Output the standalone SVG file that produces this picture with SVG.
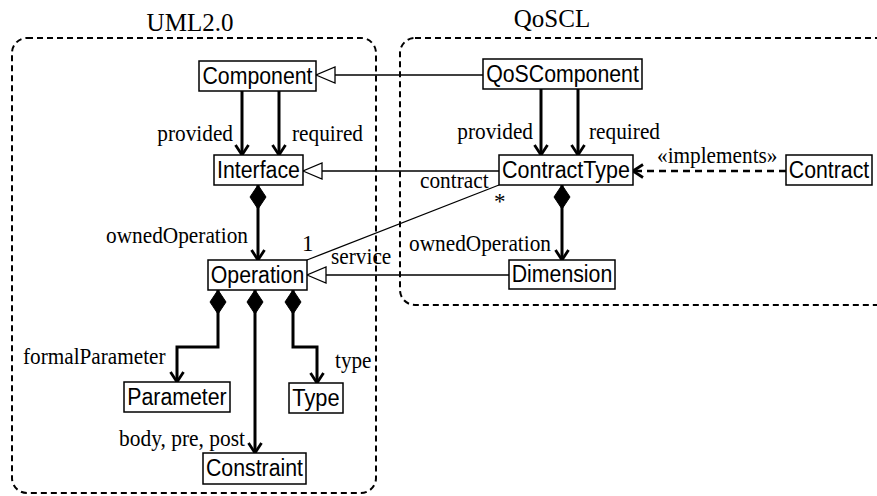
<svg xmlns="http://www.w3.org/2000/svg" width="877" height="496" viewBox="0 0 877 496">
<style>
.pkg{fill:none;stroke:#000;stroke-width:2;stroke-dasharray:6 4}
.box rect{fill:#fff;stroke:#000;stroke-width:1.5}
.box text{font-family:"Liberation Sans",Arial,sans-serif;font-size:23px;text-anchor:middle;fill:#000}
.lbl{font-family:"Liberation Serif","Times New Roman",serif;font-size:23px;fill:#000}
.title{font-family:"Liberation Serif","Times New Roman",serif;font-size:25px;fill:#000;text-anchor:middle}
.nav{fill:none;stroke:#000;stroke-width:3;marker-end:url(#open)}
.comp{marker-start:url(#diamond)}
.gen{fill:none;stroke:#000;stroke-width:1.3;marker-end:url(#tri)}
.assoc{fill:none;stroke:#000;stroke-width:1.3}
.dep{fill:none;stroke:#000;stroke-width:2.5;stroke-dasharray:7 5;marker-end:url(#open)}
</style>
<defs>
<marker id="open" markerUnits="userSpaceOnUse" markerWidth="30" markerHeight="30" viewBox="-15 -15 30 30" refX="0" refY="0" orient="auto" overflow="visible">
<path d="M-10,-6.5 L0,0 L-10,6.5" fill="none" stroke="#000" stroke-width="2.8"/>
</marker>
<marker id="tri" markerUnits="userSpaceOnUse" markerWidth="40" markerHeight="40" viewBox="-30 -20 40 40" refX="0" refY="0" orient="auto" overflow="visible">
<path d="M0,0 L-19,-8 L-19,8 Z" fill="#fff" stroke="#000" stroke-width="1.3"/>
</marker>
<marker id="diamond" markerUnits="userSpaceOnUse" markerWidth="40" markerHeight="40" viewBox="-10 -20 40 40" refX="0" refY="0" orient="auto" overflow="visible">
<path d="M0,0 L12,-8 L24,0 L12,8 Z" fill="#000" stroke="#000" stroke-width="1"/>
</marker>
</defs>

<g id="pkg-uml">
<rect class="pkg" x="12" y="38" width="364" height="455" rx="15"/>
<text class="title" x="190" y="31">UML2.0</text>
</g>
<g id="pkg-qoscl">
<rect class="pkg" x="400" y="38" width="520" height="267" rx="15"/>
<text class="title" x="552" y="27" font-size="24">QoSCL</text>
</g>

<g id="connectors">
<path class="nav" d="M242,91 V155"/>
<path class="nav" d="M279,91 V155"/>
<path class="nav" d="M541,89 V155"/>
<path class="nav" d="M578,89 V155"/>
<path class="gen" d="M483,75 H316"/>
<path class="gen" d="M499,171 H303"/>
<path class="gen" d="M509,275 H307"/>
<path class="assoc" d="M499,185 L307,260"/>
<path class="nav comp" d="M258,185 V260"/>
<path class="nav comp" d="M562,185 V260"/>
<path class="nav comp" d="M218,290 V347 H177 V382"/>
<path class="nav comp" d="M255,290 V453"/>
<path class="nav comp" d="M293,290 V347 H317 V383"/>
<path class="dep" d="M786,171 H633"/>
<text class="lbl" x="233" y="141" text-anchor="end" textLength="75.7" lengthAdjust="spacingAndGlyphs">provided</text>
<text class="lbl" x="292" y="141" textLength="71" lengthAdjust="spacingAndGlyphs">required</text>
<text class="lbl" x="533" y="139" text-anchor="end" textLength="75.7" lengthAdjust="spacingAndGlyphs">provided</text>
<text class="lbl" x="589" y="139" textLength="71" lengthAdjust="spacingAndGlyphs">required</text>
<text class="lbl" x="420" y="188" textLength="68.6" lengthAdjust="spacingAndGlyphs">contract</text>
<text class="lbl" x="494" y="209">*</text>
<text class="lbl" x="302" y="251">1</text>
<text class="lbl" x="331" y="264" textLength="60.3" lengthAdjust="spacingAndGlyphs">service</text>
<text class="lbl" x="248" y="243" text-anchor="end" textLength="142" lengthAdjust="spacingAndGlyphs">ownedOperation</text>
<text class="lbl" x="409" y="251" textLength="142" lengthAdjust="spacingAndGlyphs">ownedOperation</text>
<text class="lbl" x="657" y="163" textLength="120.5" lengthAdjust="spacingAndGlyphs">«implements»</text>
<text class="lbl" x="23" y="364" textLength="142.5" lengthAdjust="spacingAndGlyphs">formalParameter</text>
<text class="lbl" x="119" y="446" textLength="126" lengthAdjust="spacingAndGlyphs">body, pre, post</text>
<text class="lbl" x="335" y="368" textLength="36.5" lengthAdjust="spacingAndGlyphs">type</text>
</g>

<g id="Component" class="box"><rect x="199" y="61" width="117" height="30"/><text x="257.5" y="84" textLength="110" lengthAdjust="spacingAndGlyphs">Component</text></g>
<g id="Interface" class="box"><rect x="214" y="155" width="89" height="30"/><text x="258.5" y="178" textLength="82.9" lengthAdjust="spacingAndGlyphs">Interface</text></g>
<g id="Operation" class="box"><rect x="208" y="260" width="99" height="30"/><text x="257.5" y="283" textLength="93.5" lengthAdjust="spacingAndGlyphs">Operation</text></g>
<g id="Parameter" class="box"><rect x="124" y="382" width="106" height="30"/><text x="177" y="405" textLength="99.4" lengthAdjust="spacingAndGlyphs">Parameter</text></g>
<g id="Type" class="box"><rect x="289" y="383" width="54" height="30"/><text x="316" y="406" textLength="47.3" lengthAdjust="spacingAndGlyphs">Type</text></g>
<g id="Constraint" class="box"><rect x="203" y="453" width="103" height="31"/><text x="254.5" y="476" textLength="97" lengthAdjust="spacingAndGlyphs">Constraint</text></g>
<g id="QoSComponent" class="box"><rect x="483" y="59" width="159" height="30"/><text x="562.5" y="82" textLength="152.7" lengthAdjust="spacingAndGlyphs">QoSComponent</text></g>
<g id="ContractType" class="box"><rect x="499" y="155" width="134" height="30"/><text x="566" y="178" textLength="127.8" lengthAdjust="spacingAndGlyphs">ContractType</text></g>
<g id="Contract" class="box"><rect x="786" y="155" width="86" height="30"/><text x="829" y="178" textLength="80.5" lengthAdjust="spacingAndGlyphs">Contract</text></g>
<g id="Dimension" class="box"><rect x="509" y="260" width="106" height="29"/><text x="562" y="282" textLength="100.6" lengthAdjust="spacingAndGlyphs">Dimension</text></g>
</svg>
